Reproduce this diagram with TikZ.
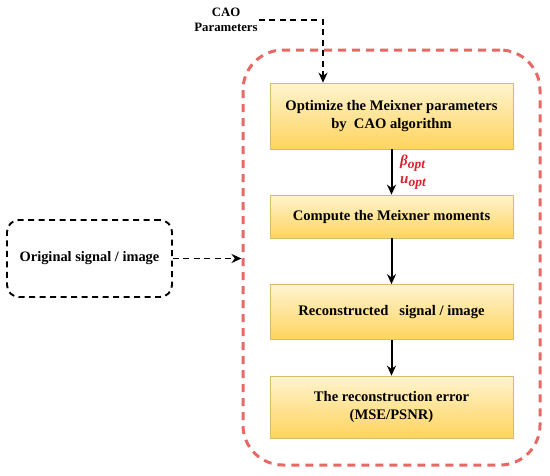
\documentclass[tikz,border=0pt]{standalone}
\usepackage{fontspec}
\setmainfont{Liberation Serif}
\usetikzlibrary{arrows.meta, positioning}
\definecolor{boxtop}{HTML}{FFF4CF}
\definecolor{boxbot}{HTML}{FFD45E}
\definecolor{boxline}{HTML}{D9BC6A}
\definecolor{framered}{HTML}{E56A66}
\definecolor{labred}{HTML}{E0202F}
\tikzset{
  box/.style={draw=boxline, line width=0.7pt, top color=boxtop, bottom color=boxbot,
    minimum width=243pt, align=center, font=\fontsize{14.6}{18}\selectfont\bfseries},
  flow/.style={-{Stealth[length=10pt,width=9pt]}, line width=2pt},
  dasharrow/.style={-{Stealth[length=10pt,width=9pt]}, line width=1.9pt, dash pattern=on 6pt off 4.5pt}
}

\begin{document}
\begin{tikzpicture}[x=1pt, y=-1pt]
    \useasboundingbox (0,0) rectangle (550,475);

    % red dashed frame round the steps
    \node[draw=framered, line width=3pt, dash pattern=on 8pt off 6pt, rounded corners=40pt,
      minimum width=297pt, minimum height=415pt] (frame) at (391.5, 257.5) {};

    \node[box, minimum height=66pt] (opt) at (391.5, 116) {Optimize the Meixner parameters\\by\ \ CAO algorithm};
    \node[box, minimum height=43pt] (mom) at (391.5, 216.5) {Compute the Meixner moments};
    \node[box, minimum height=55pt] (rec) at (391.5, 312) {Reconstructed\ \ \ signal / image};
    \node[box, minimum height=62pt] (err) at (391.5, 407) {The reconstruction error\\(MSE/PSNR)};

    \node[draw, line width=1.9pt, dash pattern=on 6pt off 4.5pt, rounded corners=12pt,
      minimum width=165pt, minimum height=77pt, font=\fontsize{14.4}{18}\selectfont\bfseries] (orig) at (89.5, 258.5) {Original signal / image};

    \node[align=center, font=\fontsize{12.8}{15}\selectfont\bfseries, inner sep=1pt] (cao) at (226, 20) {CAO\\Parameters};
    \coordinate (caoin) at ([xshift=-68.5pt]opt.north);

    \draw[dasharrow] (cao.east) -| (caoin);
    \draw[dasharrow] (orig.east) -- (orig.east -| frame.west);

    \draw[flow] (opt) -- (mom);
    \draw[flow] (mom) -- (rec);
    \draw[flow] (rec) -- (err);

    \node[anchor=west, text=labred, font=\fontsize{15}{17}\selectfont\bfseries\itshape, inner sep=0pt] (beta) at (400, 163) {β\textsubscript{\fontsize{13.5}{15}\selectfont opt}};
    \node[anchor=west, text=labred, font=\fontsize{15}{17}\selectfont\bfseries\itshape, inner sep=0pt] (uopt) at (400, 183) {u\textsubscript{\fontsize{13.5}{15}\selectfont opt}};
\end{tikzpicture}
\end{document}
